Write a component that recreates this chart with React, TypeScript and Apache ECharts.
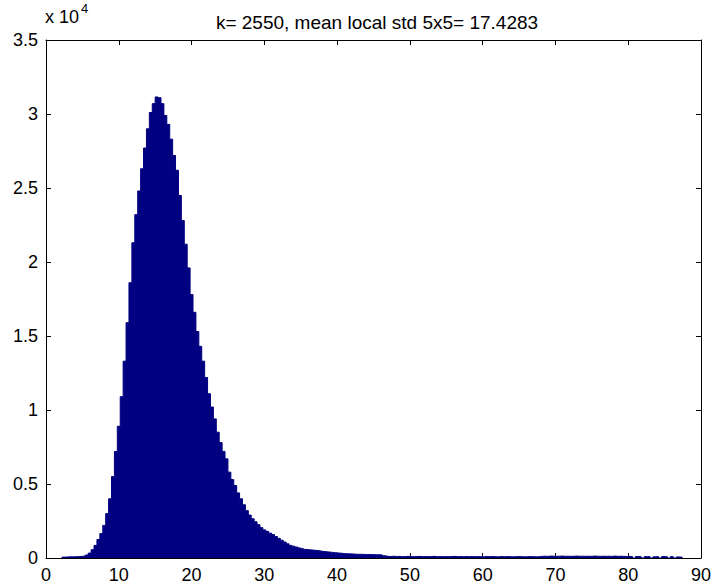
import React, { useEffect, useRef } from "react";
import * as echarts from "echarts";

const TITLE = "k= 2550, mean local std 5x5= 17.4283";
const X_TICKS = [0, 10, 20, 30, 40, 50, 60, 70, 80, 90];
const Y_TICKS = [0, 0.5, 1, 1.5, 2, 2.5, 3, 3.5];
const Y_SCALE = 10000;
const BIN_START = 2.2;
const BIN_WIDTH = 0.4;

const COUNTS_RISE = [
  60, 70, 80, 80, 90, 100, 110, 140, 200, 330, 560, 850, 1250, 1650, 2200, 3000,
  4000, 5500, 7200, 8900, 10900, 13300, 15900, 18600, 21300, 23200, 24800, 26300,
  27700, 29000, 30100, 30700, 31150, 31100,
];
const COUNTS_FALL = [
  30700, 29900, 29300, 28300, 27200, 26200, 24500, 22800, 21200, 19600, 17800,
  16600, 15300, 14300, 13300, 12200, 11100, 10200, 9400, 8500, 7800, 7200, 6700,
  5800, 5300, 4900, 4400, 4000, 3600, 3200, 2900, 2650, 2450, 2250, 2050, 1900,
  1800, 1680, 1580, 1450, 1330, 1200, 1080, 960, 850, 800, 740, 680, 630, 580,
  560, 540, 520, 500, 470, 440, 420, 400, 380, 360, 340, 320, 300, 290, 280, 270,
  260, 250, 250, 240, 240, 230, 230, 220, 220, 210, 150,
];
const COUNTS_TAIL = [
  110, 100, 120, 100, 110, 90, 100, 110, 100, 90,
  100, 110, 90, 100, 90, 100, 110, 90, 100, 90,
  100, 90, 100, 110, 90, 100, 90, 100, 90, 100,
  90, 100, 90, 80, 100, 90, 100, 90, 80, 100,
  90, 100, 90, 80, 90, 100, 90, 80, 90, 100,
  90, 80, 90,
  110, 120, 110, 130, 120, 110, 120, 130, 110, 120,
  110, 120, 130, 110, 120, 110, 120, 110, 130, 120,
  110, 120, 110, 120, 110, 130, 110, 120, 110, 100,
  110,
  90, 0, 100, 80, 0, 90, 100, 0, 80, 90,
  0, 100, 80, 0, 90, 0, 70, 60,
];
const COUNTS = [...COUNTS_RISE, ...COUNTS_FALL, ...COUNTS_TAIL];

const FONT = "'Liberation Sans', Arial, Helvetica, sans-serif";
const BAR = "#000080";

export default function App() {
  const ref = useRef<HTMLDivElement>(null);
  useEffect(() => {
    if (!ref.current) return;
    const chart = echarts.init(ref.current, undefined, { renderer: "svg" });
    // histogram outline: each bin's count held from its left edge to its right edge
    const data: number[][] = [[BIN_START, 0]];
    COUNTS.forEach((c, i) => data.push([BIN_START + i * BIN_WIDTH, c]));
    data.push([BIN_START + COUNTS.length * BIN_WIDTH, COUNTS[COUNTS.length - 1]]);
    data.push([BIN_START + COUNTS.length * BIN_WIDTH, 0]);

    const xMin = X_TICKS[0];
    const xMax = X_TICKS[X_TICKS.length - 1];
    const xInt = X_TICKS[1] - X_TICKS[0];
    const yMin = Y_TICKS[0] * Y_SCALE;
    const yMax = Y_TICKS[Y_TICKS.length - 1] * Y_SCALE;
    const yInt = (Y_TICKS[1] - Y_TICKS[0]) * Y_SCALE;
    const axisCommon = {
      type: "value" as const,
      axisLine: { show: true, onZero: false, lineStyle: { color: "#000", width: 1 } },
      axisTick: { show: true, inside: true, length: 5, lineStyle: { color: "#000" } },
      splitLine: { show: false },
    };
    chart.setOption({
      animation: false,
      backgroundColor: "#fff",
      grid: { left: 46, right: 12, top: 40, bottom: 27, containLabel: false },
      title: {
        text: TITLE,
        left: 372,
        top: 8,
        textAlign: "center",
        textStyle: { fontFamily: FONT, fontSize: 19, fontWeight: "normal", color: "#000" },
      },
      xAxis: [
        {
          ...axisCommon,
          position: "bottom",
          min: xMin,
          max: xMax,
          interval: xInt,
          axisLabel: { fontFamily: FONT, fontSize: 18, color: "#000", margin: 8 },
        },
        {
          ...axisCommon,
          position: "top",
          min: xMin,
          max: xMax,
          interval: xInt,
          axisLabel: { show: false },
        },
      ],
      yAxis: [
        {
          ...axisCommon,
          position: "left",
          min: yMin,
          max: yMax,
          interval: yInt,
          axisLabel: {
            fontFamily: FONT,
            fontSize: 18,
            color: "#000",
            margin: 8,
            formatter: (v: number) => String(v / Y_SCALE),
          },
        },
        {
          ...axisCommon,
          position: "right",
          min: yMin,
          max: yMax,
          interval: yInt,
          axisLabel: { show: false },
        },
      ],
      graphic: [
        {
          type: "text",
          left: 45,
          top: 8,
          style: { text: "x 10", fontFamily: FONT, fontSize: 18, fill: "#000" },
        },
        {
          type: "text",
          left: 81,
          top: 2,
          style: { text: "4", fontFamily: FONT, fontSize: 13, fill: "#000" },
        },
      ],
      series: [
        {
          type: "line",
          xAxisIndex: 0,
          yAxisIndex: 0,
          step: "end",
          data,
          showSymbol: false,
          symbol: "none",
          lineStyle: { color: BAR, width: 1 },
          areaStyle: { color: BAR, opacity: 1 },
          z: 1,
        },
      ],
    });
    return () => chart.dispose();
  }, []);
  return (
    <div
      ref={ref}
      style={{ position: "fixed", left: 0, top: 0, width: 714, height: 585 }}
    />
  );
}
